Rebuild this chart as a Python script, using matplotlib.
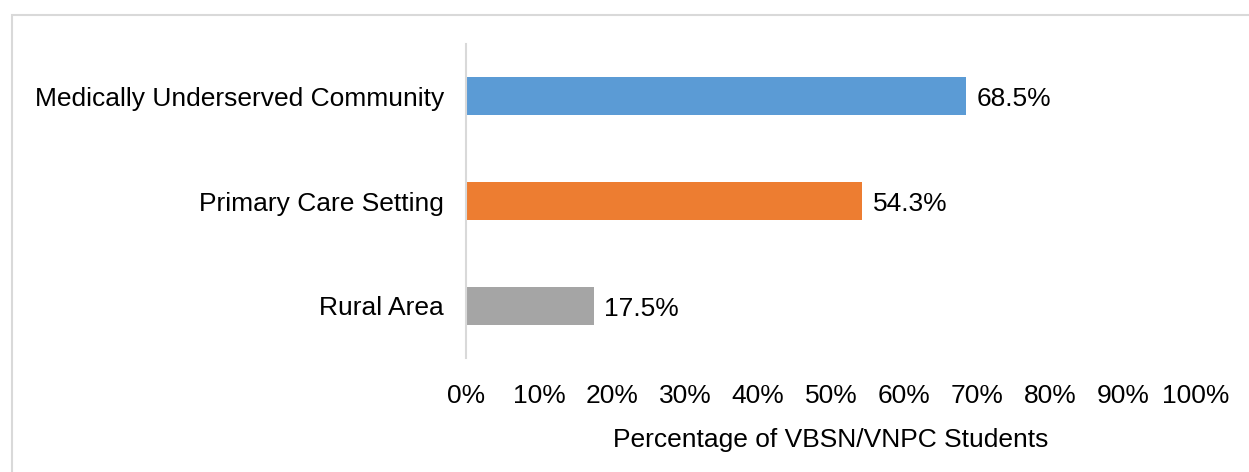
import matplotlib.pyplot as plt
from matplotlib.patches import Rectangle

# data
categories = ['Medically Underserved Community', 'Primary Care Setting', 'Rural Area']
values = [68.5, 54.3, 17.5]
colors = ['#5B9BD5', '#ED7D31', '#A5A5A5']
xticks = [0, 10, 20, 30, 40, 50, 60, 70, 80, 90, 100]

plt.rcParams['font.family'] = ['Liberation Sans', 'DejaVu Sans']

W, H = 1249, 472
fig = plt.figure(figsize=(W / 100, H / 100), dpi=100)

# outer frame (only top and left edge visible)
fig.patches.append(Rectangle((12 / W, 0 - 0.1), 1.2, 1 - 14.5 / H + 0.1,
                             transform=fig.transFigure, fill=False,
                             edgecolor='#D9D9D9', linewidth=1.5))

ax = fig.add_axes([466 / W, 1 - 358 / H, (1196 - 466) / W, (358 - 44) / H])

ypos = list(range(len(categories)))
ax.barh(ypos, values, height=0.36, color=colors)
for y, v in zip(ypos, values):
    ax.text(v + 1.4, y + 0.03, f'{v:.1f}%', va='center', ha='left', fontsize=19)

ax.set_ylim(2.5, -0.5)
ax.set_xlim(0, 100)
ax.set_yticks(ypos)
ax.set_yticklabels(categories, fontsize=19)
ax.set_xticks(xticks)
ax.set_xticklabels([f'{t}%' for t in xticks], fontsize=19)
ax.tick_params(axis='both', length=0)
ax.tick_params(axis='x', pad=19)
ax.tick_params(axis='y', pad=16)
ax.set_xlabel('Percentage of VBSN/VNPC Students', fontsize=19, labelpad=14)

for s in ['top', 'right', 'bottom']:
    ax.spines[s].set_visible(False)
ax.spines['left'].set_color('#D9D9D9')
ax.spines['left'].set_linewidth(1.5)

fig.savefig('out.png', dpi=100)
